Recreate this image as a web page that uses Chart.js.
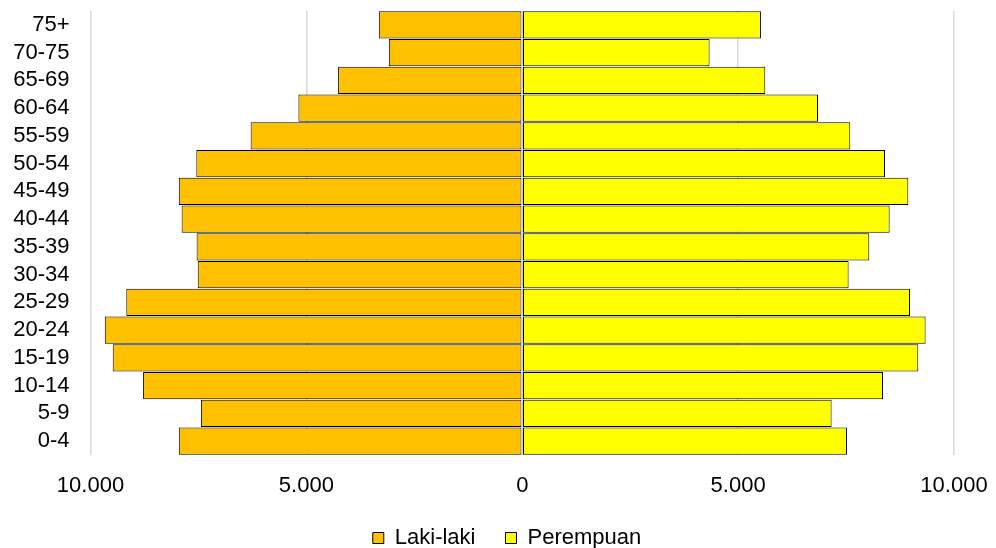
<!DOCTYPE html>
<html>
<head>
<meta charset="utf-8">
<script src="https://cdn.jsdelivr.net/npm/chart.js@4/dist/chart.umd.min.js"></script>
<style>
  html, body { margin: 0; padding: 0; background: #ffffff; }
  #wrap { width: 996px; height: 548px; position: relative; }
</style>
</head>
<body>
<div id="wrap"><canvas id="pyramid" width="996" height="548"></canvas></div>
<script>
// Age groups, youngest first (the y axis is reversed so 75+ sits on top)
const ageGroups = ['0-4', '5-9', '10-14', '15-19', '20-24', '25-29', '30-34', '35-39',
                   '40-44', '45-49', '50-54', '55-59', '60-64', '65-69', '70-75', '75+'];

// Population per age group
const lakiLaki  = [7955, 7443, 8782, 9486, 9669, 9171, 7517, 7542,
                   7890, 7955, 7549, 6291, 5184, 4265, 3090, 3322];
const perempuan = [7521, 7165, 8355, 9173, 9342, 8981, 7559, 8038,
                   8509, 8942, 8402, 7598, 6850, 5629, 4339, 5529];

// Axis range and tick step
const axisMax = 10000;
const axisStep = 5000;

const FONT = 'Liberation Sans, Arial, sans-serif';

// Thousands separator in Indonesian style: 10.000
function formatThousands(v) {
  return String(Math.abs(Math.round(v))).replace(/\B(?=(\d{3})+(?!\d))/g, '.');
}

// Redraw the zero line above the bars, as a thin light rule
const zeroLine = {
  id: 'zeroLine',
  afterDatasetsDraw(chart) {
    const { ctx, chartArea, scales } = chart;
    const x = Math.round(scales.x.getPixelForValue(0));
    ctx.save();
    ctx.strokeStyle = '#d0d0d0';
    ctx.lineWidth = 2;
    ctx.beginPath();
    ctx.moveTo(x, chartArea.top);
    ctx.lineTo(x, chartArea.bottom);
    ctx.stroke();
    ctx.restore();
  }
};

// Centre the legend under the plot area rather than under the whole canvas
const legendOffset = {
  id: 'legendOffset',
  afterLayout(chart) {
    const lg = chart.legend;
    if (!lg) return;
    const dx = 30, dy = 1;
    lg.left += dx; lg.right += dx;
    lg.top += dy; lg.bottom += dy;
  }
};

new Chart(document.getElementById('pyramid'), {
  type: 'bar',
  data: {
    labels: ageGroups,
    datasets: [
      {
        label: 'Laki-laki',
        data: lakiLaki.map(v => -v),
        backgroundColor: '#FFC000',
        borderColor: '#000000',
        borderWidth: 1,
        borderSkipped: false,
        barPercentage: 0.98,
        categoryPercentage: 1.0
      },
      {
        label: 'Perempuan',
        data: perempuan,
        backgroundColor: '#FFFF00',
        borderColor: '#000000',
        borderWidth: 1,
        borderSkipped: false,
        barPercentage: 0.98,
        categoryPercentage: 1.0
      }
    ]
  },
  options: {
    indexAxis: 'y',
    responsive: false,
    animation: false,
    devicePixelRatio: 1,
    layout: { padding: { left: 0, right: 42, top: 11, bottom: -10 } },
    scales: {
      x: {
        stacked: true,
        min: -axisMax,
        max: axisMax,
        ticks: {
          stepSize: axisStep,
          color: '#000000',
          font: { family: FONT, size: 22 },
          padding: 18,
          maxRotation: 0,
          callback: v => formatThousands(v)
        },
        grid: { color: '#d9d9d9', lineWidth: 1.5, drawTicks: false },
        border: { display: false },
        afterFit(scale) {
          scale.height = 41;
          scale.paddingLeft = 0;
          scale.paddingRight = 0;
        }
      },
      y: {
        stacked: true,
        reverse: true,
        ticks: {
          color: '#000000',
          font: { family: FONT, size: 22 },
          padding: 21,
          autoSkip: false
        },
        grid: { display: false, drawTicks: false },
        border: { display: false },
        afterFit(scale) {
          scale.width = 90.5;
          scale.paddingTop = 0;
          scale.paddingBottom = 0;
        }
      }
    },
    plugins: {
      legend: {
        position: 'bottom',
        labels: {
          color: '#000000',
          font: { family: FONT, size: 22 },
          boxWidth: 11,
          boxHeight: 11,
          padding: 30
        }
      },
      tooltip: { enabled: false }
    }
  },
  plugins: [zeroLine, legendOffset]
});
</script>
</body>
</html>
